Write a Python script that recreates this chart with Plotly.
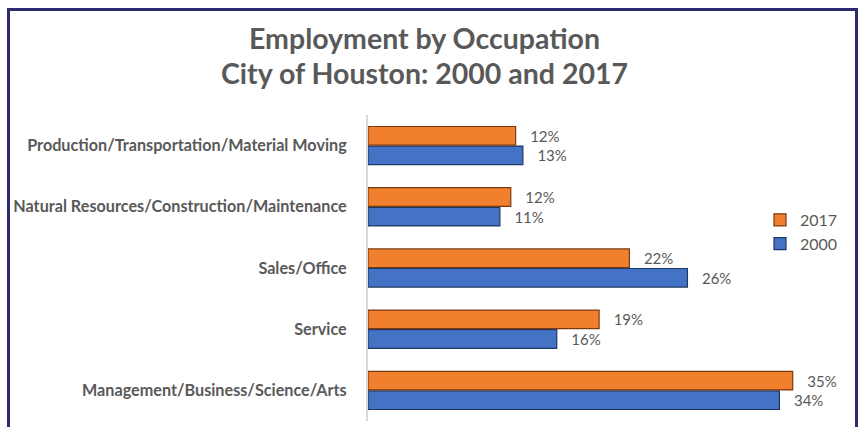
import plotly.graph_objects as go

categories = [
    "Management/Business/Science/Arts",
    "Service",
    "Sales/Office",
    "Natural Resources/Construction/Maintenance",
    "Production/Transportation/Material Moving",
]
values_2000 = [34.0, 15.6, 26.4, 10.9, 12.8]
values_2017 = [35.1, 19.1, 21.6, 11.8, 12.2]
labels_2000 = ["34%", "16%", "26%", "11%", "13%"]
labels_2017 = ["35%", "19%", "22%", "12%", "12%"]
title_lines = ["Employment by Occupation", "City of Houston: 2000 and 2017"]

W, H = 860, 427
L, R, T, B = 368, 40, 115, 6
pw, ph = W - L - R, H - T - B
FONT = "Lato, Open Sans, sans-serif"

fig = go.Figure()
fig.add_trace(go.Bar(
    y=categories, x=values_2000, name="2000", orientation="h",
    marker=dict(color="#4472C4", line=dict(color="#1F3864", width=1.2)),
    text=labels_2000, texttemplate="   %{text}", textposition="outside", cliponaxis=False,
    textfont=dict(family=FONT, size=15, color="#595959"),
))
fig.add_trace(go.Bar(
    y=categories, x=values_2017, name="2017", orientation="h",
    marker=dict(color="#F07F2E", line=dict(color="#7A3A10", width=1.2)),
    text=labels_2017, texttemplate="   %{text}", textposition="outside", cliponaxis=False,
    textfont=dict(family=FONT, size=15, color="#595959"),
))

fig.update_layout(
    width=W, height=H,
    margin=dict(l=L, r=R, t=T, b=B, autoexpand=False),
    paper_bgcolor="white", plot_bgcolor="white",
    barmode="group", bargap=0.36, bargroupgap=0.05,
    xaxis=dict(range=[0, pw / 12.1], showgrid=False, showticklabels=False,
               zeroline=False, showline=False, ticks="", automargin=False),
    yaxis=dict(showgrid=False, showline=True, linecolor="#D9D9D9", linewidth=2,
               ticks="", ticklabelstandoff=16, automargin=False,
               tickfont=dict(family=FONT, size=16.2, color="#595959", weight="bold")),
    legend=dict(x=(760 - L) / pw, y=(H - B - 203) / ph, xanchor="left", yanchor="top",
                traceorder="reversed", bgcolor="rgba(0,0,0,0)", tracegroupgap=0,
                itemwidth=30,
                font=dict(family=FONT, size=16, color="#595959")),
    showlegend=True,
)

for i, line in enumerate(title_lines):
    fig.add_annotation(
        text=line, xref="paper", yref="paper",
        x=(424 - L) / pw, y=(H - B - (38 + 35 * i)) / ph,
        xanchor="center", yanchor="middle", showarrow=False,
        font=dict(family=FONT, size=28.5, color="#595959", weight="bold"),
    )

fig.add_shape(type="rect", xref="paper", yref="paper",
              x0=(8.5 - L) / pw, x1=(856.5 - L) / pw,
              y0=-0.2, y1=(H - B - 9.5) / ph,
              line=dict(color="#2E2A6E", width=3), layer="above")

fig.write_html("out.html", config={"displayModeBar": False},
               post_script="document.body.style.margin='0px';")
